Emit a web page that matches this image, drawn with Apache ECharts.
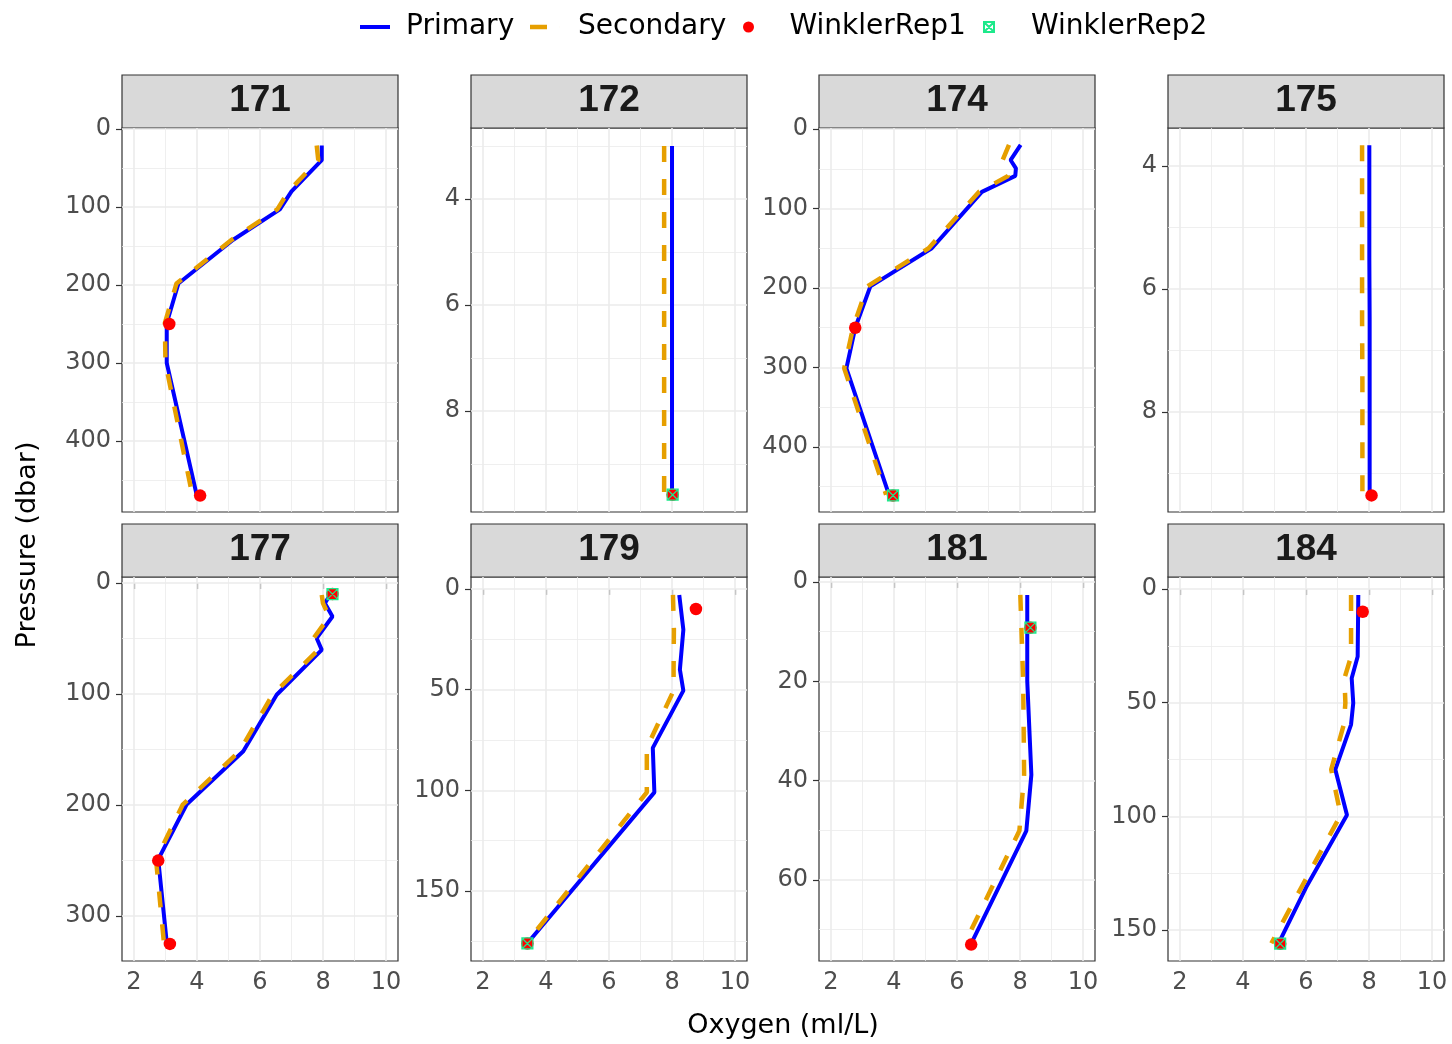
<!DOCTYPE html>
<html>
<head>
<meta charset="utf-8">
<title>Oxygen profiles</title>
<script src="https://cdn.jsdelivr.net/npm/echarts@6/dist/echarts.min.js"></script>
<style>
  html, body { margin: 0; padding: 0; background: #fff; }
  #main { width: 1452px; height: 1044px; }
</style>
</head>
<body>
<div id="main"></div>
<script>
// casts (one panel each)
var casts = ['171', '172', '174', '175', '177', '179', '181', '184'];

// pressure (dbar) with primary / secondary oxygen (ml/L)
var pres171 = [21, 40, 80, 103, 142, 198, 249, 300, 469];
var prim171 = [7.96, 7.96, 7.0, 6.63, 5.15, 3.41, 3.04, 3.04, 3.99];
var sec171  = [7.8, 7.85, 6.9, 6.55, 5.1, 3.35, 2.98, 3.0, 3.85];

var pres172 = [3, 4, 5, 6, 7, 8, 9, 9.58];
var prim172 = [8.0, 8.0, 8.0, 8.0, 8.0, 8.0, 8.0, 8.0];
var sec172  = [7.75, 7.75, 7.75, 7.75, 7.75, 7.75, 7.75, 7.75];

var pres174 = [20, 39, 49.5, 59, 79, 150, 198, 250, 301, 460];
var prim174 = [8.02, 7.70, 7.87, 7.85, 6.79, 5.2, 3.25, 2.77, 2.49, 3.84];
var sec174  = [7.65, 7.45, 7.6, 7.62, 6.7, 5.1, 3.15, 2.7, 2.42, 3.75];

var pres175 = [3.66, 4.5, 5.5, 6.5, 7.5, 8.5, 9.35];
var prim175 = [8.01, 8.01, 8.01, 8.02, 8.02, 8.02, 8.02];
var sec175  = [7.78, 7.78, 7.78, 7.78, 7.79, 7.79, 7.79];

var pres177 = [10.8, 18.3, 30.2, 49.7, 60.2, 100.6, 151.5, 199.5, 248.9, 323.7];
var prim177 = [8.22, 8.06, 8.30, 7.8, 7.96, 6.53, 5.47, 3.67, 2.77, 3.04];
var sec177  = [7.96, 8.0, 8.2, 7.7, 7.85, 6.4, 5.35, 3.55, 2.7, 2.95];

var pres179 = [3, 20.3, 40, 50.5, 78.9, 101, 175.9];
var prim179 = [8.23, 8.36, 8.25, 8.36, 7.39, 7.44, 3.41];
var sec179  = [8.03, 8.06, 8.05, 8.05, 7.2, 7.2, 3.37];

var pres181 = [2.6, 20, 38.8, 50.1, 72.8];
var prim181 = [8.23, 8.23, 8.36, 8.2, 6.45];
var sec181  = [8.01, 8.1, 8.13, 7.98, 6.24];

var pres184 = [2.6, 29.7, 39.2, 50.1, 59.6, 79.4, 99.4, 131.3, 155.8];
var prim184 = [7.66, 7.64, 7.45, 7.5, 7.43, 6.93, 7.3, 6.0, 5.13];
var sec184  = [7.43, 7.43, 7.22, 7.25, 7.2, 6.8, 7.1, 5.85, 4.9];

// Winkler bottle samples [oxygen, pressure]
var rep1_171 = [[3.12, 250], [4.1, 470]];
var rep2_171 = [];
var rep1_172 = [[8.02, 9.58]];
var rep2_172 = [[8.02, 9.58]];
var rep1_174 = [[2.77, 250], [3.97, 461]];
var rep2_174 = [[3.97, 461]];
var rep1_175 = [[8.08, 9.36]];
var rep2_175 = [];
var rep1_177 = [[8.3, 10], [2.77, 250], [3.14, 325]];
var rep2_177 = [[8.3, 10]];
var rep1_179 = [[8.76, 10], [3.41, 176]];
var rep2_179 = [[3.41, 176]];
var rep1_181 = [[8.33, 9.2], [6.45, 73]];
var rep2_181 = [[8.33, 9.2]];
var rep1_184 = [[7.8, 10], [5.18, 156]];
var rep2_184 = [[5.18, 156]];

// axis scales and ticks
var xTicks = [2, 4, 6, 8, 10];
var xMinor = [3, 5, 7, 9];
var yMin = [-1.3, 2.66, -1.3, 3.38, -5.4, -5.9, -1.0, -5.3];
var yMax = [491, 9.906, 481.8, 9.63, 340.4, 184.7, 76.3, 163.6];
var yTicks = [[0, 100, 200, 300, 400], [4, 6, 8], [0, 100, 200, 300, 400], [4, 6, 8],
              [0, 100, 200, 300], [0, 50, 100, 150], [0, 20, 40, 60], [0, 50, 100, 150]];
var yMinor = [[50, 150, 250, 350, 450], [3, 5, 7, 9], [50, 150, 250, 350, 450], [5, 7, 9],
              [50, 150, 250], [25, 75, 125, 175], [10, 30, 50, 70], [25, 75, 125]];

var presList = [pres171, pres172, pres174, pres175, pres177, pres179, pres181, pres184];
var primList = [prim171, prim172, prim174, prim175, prim177, prim179, prim181, prim184];
var secList  = [sec171, sec172, sec174, sec175, sec177, sec179, sec181, sec184];
var rep1List = [rep1_171, rep1_172, rep1_174, rep1_175, rep1_177, rep1_179, rep1_181, rep1_184];
var rep2List = [rep2_171, rep2_172, rep2_174, rep2_175, rep2_177, rep2_179, rep2_181, rep2_184];

var font = 'DejaVu Sans';
var stripFont = 'Liberation Sans';
var colLeft = [122, 471, 819, 1168];
var rowTop = [128, 577];
var panelW = 276, panelH = 384, stripH = 53;
var boxCross = 'path://M0,0H10V10H0Z M0,0L10,10 M10,0L0,10';

function zip(ox, pr) {
    return ox.map(function (v, k) { return [v, pr[k]]; });
}

// panel grid lines as mark lines (ticks are not multiples of axis min)
function gridMarks(i) {
    var d = [];
    xMinor.forEach(function (v) { d.push({xAxis: v, lineStyle: {width: 0.8}}); });
    yMinor[i].forEach(function (v) { d.push({yAxis: v, lineStyle: {width: 0.8}}); });
    xTicks.forEach(function (v) { d.push({xAxis: v, lineStyle: {width: 1.6}}); });
    yTicks[i].forEach(function (v) { d.push({yAxis: v, lineStyle: {width: 1.6}}); });
    return {
        silent: true, z: 1, animation: false,
        symbol: ['none', 'none'],
        label: {show: false},
        lineStyle: {color: '#ebebeb', type: 'solid'},
        data: d
    };
}

var grids = [], xAxes = [], yAxes = [], series = [], graphics = [];

casts.forEach(function (c, i) {
    var col = i % 4, row = Math.floor(i / 4);
    var left = colLeft[col], top = rowTop[row];

    grids.push({
        left: left, top: top, width: panelW, height: panelH,
        show: true, borderColor: '#333333', borderWidth: 1.2, backgroundColor: '#fff'
    });
    xAxes.push({
        type: 'value', gridIndex: i, min: 1.62, max: 10.38,
        axisLine: {show: false}, splitLine: {show: false},
        axisTick: {show: row === 1, customValues: xTicks, length: 6, lineStyle: {color: '#333', width: 1.2}},
        axisLabel: {show: row === 1, customValues: xTicks, margin: 10,
            fontFamily: font, fontSize: 24, color: '#4d4d4d'}
    });
    yAxes.push({
        type: 'value', gridIndex: i, inverse: true, min: yMin[i], max: yMax[i],
        axisLine: {show: false}, splitLine: {show: false},
        axisTick: {show: true, customValues: yTicks[i], length: 6, lineStyle: {color: '#333', width: 1.2}},
        axisLabel: {customValues: yTicks[i], margin: 11,
            fontFamily: font, fontSize: 24, color: '#4d4d4d'}
    });

    series.push({
        name: 'grid' + c, type: 'scatter', xAxisIndex: i, yAxisIndex: i,
        data: [], silent: true, z: 1, markLine: gridMarks(i)
    });
    series.push({
        name: 'Primary', type: 'line', xAxisIndex: i, yAxisIndex: i, z: 3,
        data: zip(primList[i], presList[i]), symbol: 'none',
        lineStyle: {color: '#0000ff', width: 4},
        itemStyle: {color: '#0000ff'}
    });
    series.push({
        name: 'Secondary', type: 'line', xAxisIndex: i, yAxisIndex: i, z: 4,
        data: zip(secList[i], presList[i]), symbol: 'none',
        lineStyle: {color: '#E69F00', width: 4.5, type: [16, 17], cap: 'butt'},
        itemStyle: {color: '#E69F00'}
    });
    series.push({
        name: 'WinklerRep1', type: 'scatter', xAxisIndex: i, yAxisIndex: i, z: 5,
        data: rep1List[i], symbol: 'circle', symbolSize: 12.5,
        itemStyle: {color: '#ff0000', opacity: 1}
    });
    series.push({
        name: 'WinklerRep2', type: 'scatter', xAxisIndex: i, yAxisIndex: i, z: 6,
        data: rep2List[i], symbol: boxCross, symbolSize: 11,
        itemStyle: {color: 'rgba(0,0,0,0)', borderColor: '#1de98b', borderWidth: 1.2, opacity: 1}
    });

    // facet strip
    graphics.push({
        type: 'rect', silent: true,
        shape: {x: left, y: top - stripH, width: panelW, height: stripH},
        style: {fill: '#d9d9d9', stroke: '#333333', lineWidth: 1.2}
    });
    graphics.push({
        type: 'text', silent: true, x: left + panelW / 2, y: top - stripH / 2 - 1,
        style: {text: c, fontFamily: stripFont, fontWeight: 'bold', fontSize: 37,
            fill: '#1a1a1a', align: 'center', verticalAlign: 'middle'}
    });
});

graphics.push({
    type: 'text', silent: true, x: 28, y: 545, rotation: Math.PI / 2,
    style: {text: 'Pressure (dbar)', fontFamily: font, fontSize: 27, fill: '#000',
        align: 'center', verticalAlign: 'middle'}
});
graphics.push({
    type: 'text', silent: true, x: 783, y: 1026,
    style: {text: 'Oxygen (ml/L)', fontFamily: font, fontSize: 27, fill: '#000',
        align: 'center', verticalAlign: 'middle'}
});

// one legend block per key, placed like the reference
var legendNames = ['Primary', 'Secondary', 'WinklerRep1', 'WinklerRep2'];
var legendLeft = [360, 530, 743, 983];
var legendIcons = [
    'path://M0,0H30V4H0Z',
    'path://M0,0H17V4.5H0Z M29.9,2H30V2.5H29.9Z',
    'circle',
    boxCross
];
var legendSize = [12, 12, 11, 10];
var legendPad = [11, 13, 21, 22];
var legends = legendNames.map(function (n, k) {
    return {
        left: legendLeft[k], top: 13, padding: 0,
        itemWidth: 30, itemHeight: legendSize[k],
        textStyle: {fontFamily: font, fontSize: 28, color: '#000', padding: [0, 0, 0, legendPad[k]]},
        data: [{name: n, icon: legendIcons[k]}]
    };
});

var chart = echarts.init(document.getElementById('main'));
chart.setOption({
    animation: false,
    backgroundColor: '#fff',
    legend: legends,
    grid: grids,
    xAxis: xAxes,
    yAxis: yAxes,
    series: series,
    graphic: graphics
});
</script>
</body>
</html>
